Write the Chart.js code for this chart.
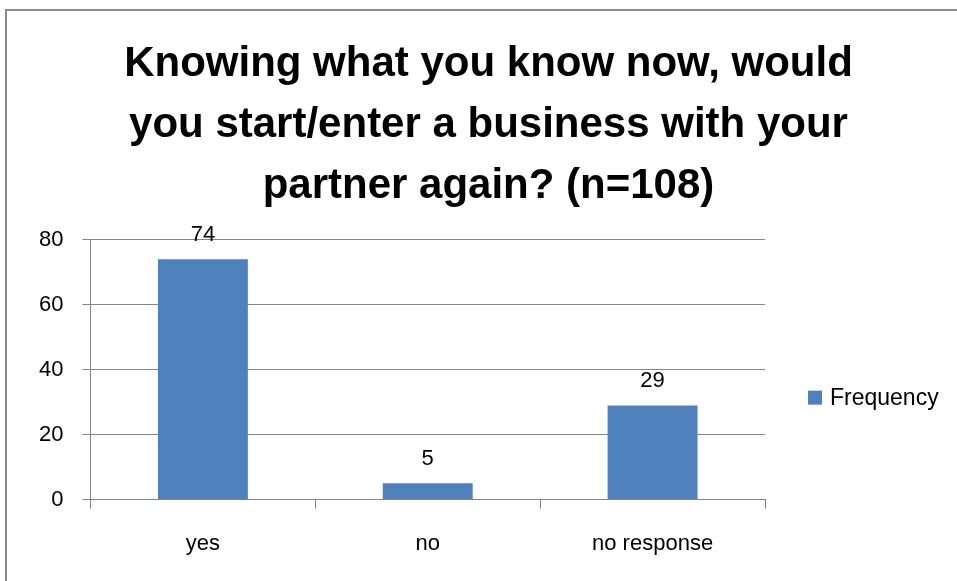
<!DOCTYPE html>
<html>
<head>
<meta charset="utf-8">
<script src="https://cdn.jsdelivr.net/npm/chart.js@4.4.1/dist/chart.umd.min.js"></script>
<style>
  html, body { margin: 0; padding: 0; background: #fff; overflow: hidden; }
  #frame { position: absolute; left: 5px; top: 9px; width: 1000px; height: 620px; border: 2px solid #8c8c8c; }
  #wrap { position: absolute; left: 0; top: 0; width: 957px; height: 581px; }
</style>
</head>
<body>
<div id="frame"></div>
<div id="wrap"><canvas id="chart"></canvas></div>
<script>
'use strict';

// Chart data
//
var categories = ["yes", "no", "no response"];
var frequency = [74, 5, 29];
var yTicks = [0, 20, 40, 60, 80];
var seriesName = "Frequency";
var titleLines = ["Knowing what you know now, would", "you start/enter a business with your", "partner again? (n=108)"];

var FONT = "'Liberation Sans', 'DejaVu Sans', sans-serif";
var GRID = "#868686";
var BAR = "#4F81BD";


// Value labels above each bar, plus the legend to the right of the plot
//
var extras = {
  id: 'extras',
  afterDatasetsDraw: function(chart) {
    var ctx = chart.ctx;
    var meta = chart.getDatasetMeta(0);
    var area = chart.chartArea;
    ctx.save();
    ctx.font = "22px " + FONT;
    ctx.fillStyle = "#000";
    ctx.textAlign = "center";
    ctx.textBaseline = "alphabetic";
    meta.data.forEach(function(bar, i) {
      ctx.fillText(String(frequency[i]), bar.x, bar.y - 18);
    });

    // legend
    var lx = area.right + 43;
    var ly = (area.top + area.bottom) / 2 + 28;
    ctx.fillStyle = BAR;
    ctx.fillRect(lx, ly - 7, 14, 14);
    ctx.fillStyle = "#000";
    ctx.font = "23px " + FONT;
    ctx.textAlign = "left";
    ctx.textBaseline = "middle";
    ctx.fillText(seriesName, lx + 22, ly + 1);
    ctx.restore();
  }
};


new Chart(document.getElementById("chart"), {
  type: 'bar',
  data: {
    labels: categories,
    datasets: [
      {
        label: seriesName,
        backgroundColor: BAR,
        borderWidth: 0,
        barPercentage: 0.4,
        categoryPercentage: 1.0,
        data: frequency
      }
    ]
  },
  options: {
    responsive: true,
    maintainAspectRatio: false,
    animation: false,
    layout: {
      padding: { top: 34, left: 20, right: 0, bottom: 2 }
    },
    plugins: {
      title: {
        display: true,
        text: titleLines,
        color: "#000",
        font: { family: FONT, size: 42, weight: 'bold', lineHeight: 1.45 },
        padding: { top: 0, bottom: 23 }
      },
      legend: { display: false },
      tooltip: { enabled: false }
    },
    scales: {
      x: {
        offset: true,
        grid: {
          offset: true,
          drawOnChartArea: false,
          drawTicks: true,
          tickLength: 9,
          color: GRID
        },
        border: { color: GRID, width: 1 },
        ticks: {
          color: "#000",
          font: { family: FONT, size: 22 },
          padding: 22
        }
      },
      y: {
        min: 0,
        max: 80,
        afterBuildTicks: function(axis) {
          axis.ticks = yTicks.map(function(v) { return { value: v }; });
        },
        grid: {
          color: GRID,
          tickLength: 8
        },
        border: { color: GRID, width: 1 },
        ticks: {
          color: "#000",
          font: { family: FONT, size: 22 },
          padding: 19
        }
      },
      // empty right-hand strip that holds the legend
      legendSpace: {
        position: 'right',
        display: true,
        grid: { display: false },
        border: { display: false },
        ticks: { display: false },
        afterFit: function(scale) {
          scale.width = 192;
        }
      }
    }
  },
  plugins: [extras]
});
</script>
</body>
</html>
